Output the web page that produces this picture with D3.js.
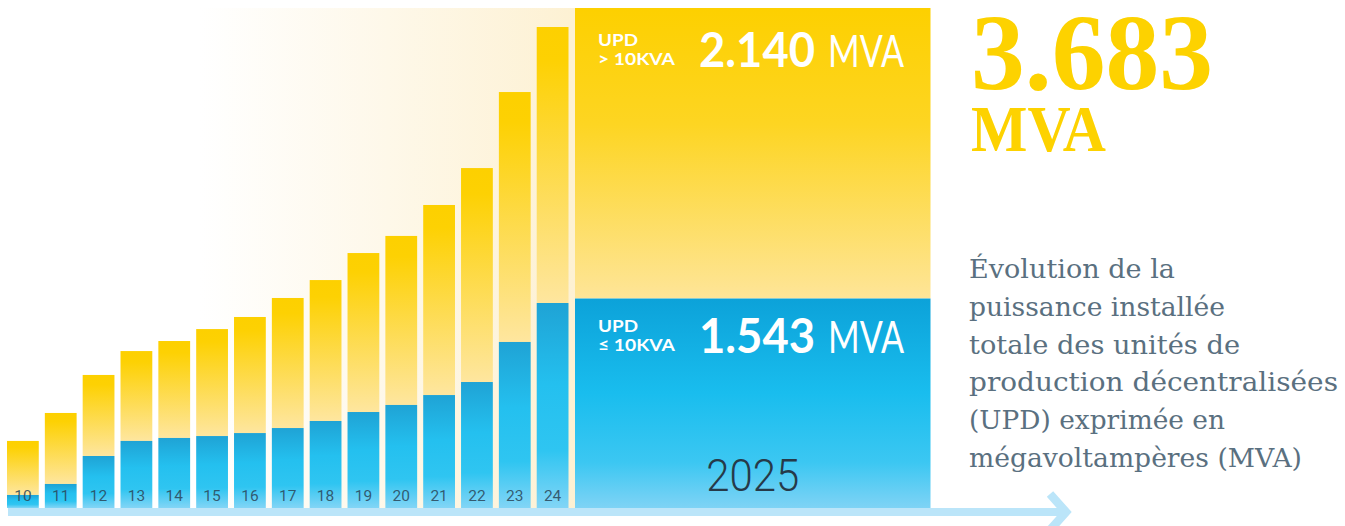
<!DOCTYPE html>
<html>
<head>
<meta charset="utf-8">
<script src="https://cdn.jsdelivr.net/npm/d3@7/dist/d3.min.js"></script>
<style>
  html, body { margin: 0; padding: 0; background: #ffffff; }
  svg { display: block; }
</style>
</head>
<body>
<svg id="chart" width="1345" height="526"></svg>
<script>
// ---------- DATA ----------
const years = ["10","11","12","13","14","15","16","17","18","19","20","21","22","23","24"];
// UPD <= 10 kVA (MVA)
const smallUPD = [96, 177, 383, 494, 516, 530, 552, 589, 641, 707, 759, 832, 928, 1223, 1510];
// UPD > 10 kVA (MVA)
const largeUPD = [398, 523, 597, 662, 714, 788, 855, 958, 1038, 1171, 1245, 1400, 1576, 1841, 2033];
const currentYear = ["2025"];
const currentSmall = [1543];
const currentLarge = [2140];
const labelLarge = ["UPD", "> 10KVA"];
const labelSmall = ["UPD", "\u2264 10KVA"];
const unit = "MVA";
const description = [
  "Évolution de la",
  "puissance installée",
  "totale des unités de",
  "production décentralisées",
  "(UPD) exprimée en",
  "mégavoltampères (MVA)"
];

// ---------- SETUP ----------
const svg = d3.select("#chart");
const fmt = d3.formatLocale({decimal: ",", thousands: ".", grouping: [3], currency: ["", ""]}).format(",");
const total = currentSmall[0] + currentLarge[0];

const y = d3.scaleLinear().domain([0, total]).range([508, 8]);
const x = d3.scaleBand().domain(years).range([7, 568.5]).paddingInner(0.16).paddingOuter(0);
const xBox = d3.scaleBand().domain(currentYear).range([575, 930.5]);

const defs = svg.append("defs");
function vGrad(id, stops) {
  const g = defs.append("linearGradient").attr("id", id)
    .attr("x1", 0).attr("y1", 0).attr("x2", 0).attr("y2", 1);
  stops.forEach(s => g.append("stop").attr("offset", s[0]).attr("stop-color", s[1]));
}
vGrad("gYellow", [[0, "#FDD000"], [0.12, "#FDD103"], [1, "#FEE69F"]]);
vGrad("gBlue", [[0, "#1FA3D5"], [0.4, "#24C0EF"], [0.72, "#2FC5F1"], [1, "#82D5F6"]]);
vGrad("gBoxYellow", [[0, "#FDD000"], [0.4, "#FDD522"], [1, "#FEE598"]]);
vGrad("gBoxBlue", [[0, "#0CA2D9"], [0.45, "#19BDEE"], [0.78, "#3BC7F2"], [1, "#7FD3F5"]]);
const bg = defs.append("linearGradient").attr("id", "gBg")
  .attr("gradientUnits", "userSpaceOnUse").attr("x1", 200).attr("y1", 0).attr("x2", 575).attr("y2", 0);
bg.append("stop").attr("offset", 0).attr("stop-color", "#FFFFFF");
bg.append("stop").attr("offset", 1).attr("stop-color", "#FDF1D3");

// background panel
svg.append("rect").attr("x", 0).attr("y", y(total)).attr("width", xBox.range()[0])
  .attr("height", y(0) - y(total)).attr("fill", "url(#gBg)");

// ---------- BARS ----------
const rows = years.map((yr, i) => ({yr, s: smallUPD[i], l: largeUPD[i]}));
const g = svg.append("g");
g.selectAll("rect.large").data(rows).join("rect").attr("class", "large")
  .attr("x", d => x(d.yr)).attr("width", x.bandwidth())
  .attr("y", d => y(d.s + d.l)).attr("height", d => y(d.s) - y(d.s + d.l))
  .attr("fill", "url(#gYellow)");
g.selectAll("rect.small").data(rows).join("rect").attr("class", "small")
  .attr("x", d => x(d.yr)).attr("width", x.bandwidth())
  .attr("y", d => y(d.s)).attr("height", d => y(0) - y(d.s))
  .attr("fill", "url(#gBlue)");

// current year box
const cur = currentYear.map((yr, i) => ({yr, s: currentSmall[i], l: currentLarge[i]}));
const gb = svg.append("g");
gb.selectAll("rect.large").data(cur).join("rect")
  .attr("x", d => xBox(d.yr)).attr("width", xBox.bandwidth())
  .attr("y", d => y(d.s + d.l)).attr("height", d => y(d.s) - y(d.s + d.l))
  .attr("fill", "url(#gBoxYellow)");
gb.selectAll("rect.small").data(cur).join("rect")
  .attr("x", d => xBox(d.yr)).attr("width", xBox.bandwidth())
  .attr("y", d => y(d.s)).attr("height", d => y(0) - y(d.s))
  .attr("fill", "url(#gBoxBlue)");

// ---------- AXIS ----------
const axisColor = "#BBE5F9";
svg.append("rect").attr("x", 8).attr("y", y(0)).attr("width", 1056).attr("height", 8).attr("fill", axisColor);
svg.append("polyline").attr("points", "1050,494 1066,512 1050,530")
  .attr("fill", "none").attr("stroke", axisColor).attr("stroke-width", 8.5).attr("stroke-linejoin", "miter");

const ax = svg.append("g").attr("transform", `translate(0,${y(0) - 7})`)
  .call(d3.axisBottom(x).tickSize(0).tickPadding(0));
ax.select(".domain").remove();
ax.selectAll("text").attr("dy", 0).attr("y", 0)
  .attr("font-family", "Roboto, 'Liberation Sans', sans-serif").attr("font-size", 15.5)
  .attr("fill", "#2B4658").attr("fill-opacity", 0.85);

const axB = svg.append("g").attr("transform", `translate(0,${y(0) - 17})`)
  .call(d3.axisBottom(xBox).tickSize(0).tickPadding(0));
axB.select(".domain").remove();
axB.selectAll("text").attr("dy", 0).attr("y", 0)
  .attr("font-family", "Roboto, 'Liberation Sans', sans-serif").attr("font-weight", 300)
  .attr("font-size", 44).attr("fill", "#263A49")
  .attr("textLength", 93).attr("lengthAdjust", "spacingAndGlyphs");

// ---------- BOX LABELS ----------
const sans = "Lato, 'Open Sans', sans-serif";
function boxLabel(lines, value, base) {
  const bx = xBox(currentYear[0]);
  svg.append("text").attr("x", bx + 23).attr("y", base - 21).text(lines[0])
    .attr("font-family", sans).attr("font-weight", 700).attr("font-size", 17).attr("fill", "#fff")
    .attr("textLength", 40).attr("lengthAdjust", "spacingAndGlyphs");
  svg.append("text").attr("x", bx + 23).attr("y", base - 2).text(lines[1])
    .attr("font-family", sans).attr("font-weight", 700).attr("font-size", 17).attr("fill", "#fff")
    .attr("textLength", 77).attr("lengthAdjust", "spacingAndGlyphs");
  svg.append("text").attr("x", bx + 124).attr("y", base).text(fmt(value))
    .attr("font-family", sans).attr("font-weight", 700).attr("font-size", 48).attr("fill", "#fff")
    .attr("textLength", 116).attr("lengthAdjust", "spacingAndGlyphs");
  svg.append("text").attr("x", bx + 253).attr("y", base).text(unit)
    .attr("font-family", sans).attr("font-weight", 400).attr("font-size", 45).attr("fill", "#fff")
    .attr("textLength", 76).attr("lengthAdjust", "spacingAndGlyphs");
}
boxLabel(labelLarge, currentLarge[0], 67);
boxLabel(labelSmall, currentSmall[0], 353);

// ---------- TOTAL ----------
const serif = "'Liberation Serif', 'DejaVu Serif', serif";
svg.append("text").attr("x", 971).attr("y", 89).text(fmt(total))
  .attr("font-family", serif).attr("font-weight", 700).attr("font-size", 108).attr("fill", "#FDD200")
  .attr("textLength", 242).attr("lengthAdjust", "spacingAndGlyphs");
svg.append("text").attr("x", 971).attr("y", 151).text(unit)
  .attr("font-family", serif).attr("font-weight", 700).attr("font-size", 66).attr("fill", "#FDD200")
  .attr("textLength", 135).attr("lengthAdjust", "spacingAndGlyphs");

// ---------- DESCRIPTION ----------
const descW = [206, 256, 271, 369, 256, 333];
svg.append("g").selectAll("text").data(description).join("text")
  .attr("x", 969).attr("y", (d, i) => 278 + i * 37.8).text(d => d)
  .attr("font-family", "'DejaVu Serif', serif").attr("font-size", 25.5).attr("fill", "#5A7080")
  .attr("textLength", (d, i) => descW[i]).attr("lengthAdjust", "spacingAndGlyphs");
</script>
</body>
</html>
